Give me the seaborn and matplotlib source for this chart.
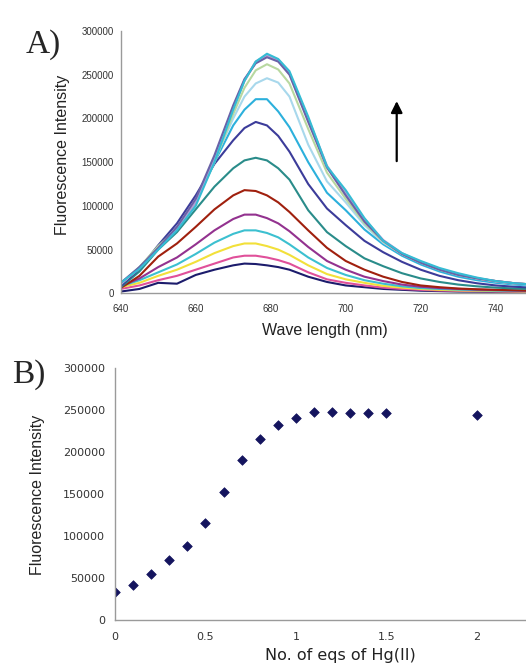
import pandas as pd
import matplotlib
matplotlib.use('Agg')
import matplotlib.pyplot as plt
import seaborn as sns

# wavelength grid (nm) the spectra were read at
wavelength = [640, 645, 650, 655, 660, 665, 670, 673, 676, 679, 682, 685, 690,
              695, 700, 705, 710, 715, 720, 725, 730, 735, 740, 745, 750]

# spectra, in thousands of counts (low -> high Hg)
s01 = [2, 5, 12, 11, 21, 27, 32, 34, 33.5, 32, 30, 27, 19, 13, 9, 7, 5, 4, 3, 2.5, 2, 1.8, 1.5, 1.3, 1.2]
s02 = [5, 9, 15, 20, 27, 34, 41, 43, 43, 41, 38, 34, 24, 16, 12, 9, 6.5, 5, 4, 3.2, 2.8, 2.4, 2, 1.8, 1.6]
s03 = [7, 12, 20, 27, 36, 46, 54, 57, 57, 54, 50, 44, 32, 22, 16, 12, 8.5, 6.5, 5, 4, 3.4, 3, 2.6, 2.3, 2]
s04 = [8, 15, 24, 33, 45, 58, 68, 72, 72, 69, 64, 56, 41, 29, 21, 15, 11, 8, 6, 5, 4.2, 3.6, 3.1, 2.7, 2.4]
s05 = [8, 17, 30, 41, 56, 72, 85, 90, 90, 86, 80, 71, 53, 37, 27, 19, 14, 10, 7.5, 6, 5, 4.3, 3.7, 3.2, 2.8]
s06 = [6, 20, 42, 57, 76, 96, 112, 118, 117, 112, 104, 93, 72, 52, 37, 27, 19, 13, 9, 7, 5.5, 4.6, 4, 3.5, 3]
s07 = [7, 25, 50, 70, 96, 122, 143, 152, 155, 152, 143, 130, 95, 70, 54, 40, 31, 23, 17, 13, 10, 8, 6.5, 5.5, 4.8]
s08 = [8, 28, 55, 80, 112, 148, 175, 189, 196, 192, 180, 162, 125, 97, 78, 60, 47, 36, 27, 20, 15, 11.5, 9, 7.5, 6.5]
s09 = [10, 30, 52, 75, 105, 150, 192, 210, 222, 222, 208, 190, 150, 115, 95, 73, 56, 43, 33, 25, 19, 15, 12, 10, 8.5]
s10 = [11, 30, 52, 75, 104, 152, 200, 225, 240, 246, 241, 225, 170, 128, 104, 78, 58, 45, 35, 27, 21, 17, 13.5, 11, 9.5]
s11 = [11, 30, 54, 74, 103, 150, 205, 235, 255, 262, 256, 240, 188, 138, 108, 80, 59, 45, 35, 27, 21, 17, 14, 11.5, 10]
s12 = [11, 29, 51, 74, 104, 154, 212, 243, 264, 272, 267, 252, 199, 145, 114, 84, 60, 45, 36, 28, 22, 17, 14, 11.5, 10]
s13 = [11, 29, 51, 75, 105, 155, 213, 244, 265, 271, 266, 251, 198, 144, 113, 83, 60, 45, 36, 28, 22, 17, 14, 11.5, 10]
s14 = [11, 29, 51, 74, 104, 154, 212, 243, 265, 273, 267, 252, 200, 146, 115, 85, 61, 46, 36, 28, 22, 17.5, 14, 11.5, 10]
s15 = [12, 30, 52, 76, 108, 158, 215, 245, 263, 270, 265, 250, 196, 144, 112, 82, 60, 45, 35, 27, 21, 17, 14, 11.5, 10]
s16 = [12, 28, 50, 72, 100, 150, 210, 243, 265, 274, 268, 254, 202, 145, 118, 86, 60, 46, 37, 29, 23, 18, 14, 11.5, 10]
spectra = [s01, s02, s03, s04, s05, s06, s07, s08, s09, s10, s11, s12, s13, s14, s15, s16]
spectra_colors = ['#1c1c6c', '#e0509a', '#f2e03a', '#3cc0d0', '#93328f', '#a0200e',
                  '#2a8c8a', '#3c3c9a', '#2cb0dc', '#a8d8ec', '#b8d8a0', '#f0b888',
                  '#e8a8c8', '#b0a0d8', '#6a62a8', '#34bcd4']

# panel B titration points
eqs_hg = [0, 0.1, 0.2, 0.3, 0.4, 0.5, 0.6, 0.7, 0.8, 0.9, 1.0, 1.1, 1.2, 1.3, 1.4, 1.5, 2.0]
intensity = [33800, 41700, 55200, 71500, 88200, 115300, 152200, 190800, 215800,
             232100, 240500, 248400, 248400, 246800, 247200, 247200, 244400]

a_xticks = [640, 660, 680, 700, 720, 740]
b_xticks = [0, 0.5, 1, 1.5, 2]
b_xticklabels = ['0', '0.5', '1', '1.5', '2']
yt = [0, 50000, 100000, 150000, 200000, 250000, 300000]

sns.set_theme(style='white')
plt.rcParams['font.family'] = ['Liberation Sans', 'DejaVu Sans']

rows = []
for i, s in enumerate(spectra):
    for w, v in zip(wavelength, s):
        rows.append({'wl': w, 'I': v * 1000, 'series': f's{i:02d}'})
spec_df = pd.DataFrame(rows)
titr_df = pd.DataFrame({'eq': eqs_hg, 'I': intensity})

fig = plt.figure(figsize=(5.26, 6.68), dpi=100)
axA = fig.add_axes([0.2295, 0.5609, 0.8555, 0.3927])
axB = fig.add_axes([0.2186, 0.0719, 0.8603, 0.3768])

spine_col = '#9a9a9a'
tick_col = '#333333'

# ---- panel A
sns.lineplot(data=spec_df, x='wl', y='I', hue='series', palette=spectra_colors,
             estimator=None, linewidth=1.5, legend=False, ax=axA)
axA.set_xlim(640, 760)
axA.set_ylim(0, 300000)
axA.set_xticks(a_xticks)
axA.set_xticklabels([str(v) for v in a_xticks])
axA.set_yticks(yt)
axA.set_yticklabels([str(v) for v in yt])
axA.tick_params(labelsize=7, colors=tick_col, length=3, width=0.8, direction='out')
axA.tick_params(axis='x', pad=5)
axA.tick_params(axis='y', pad=2)
axA.set_xlabel('Wave length (nm)', fontsize=11.5, color='#222222')
axA.set_ylabel('Fluorescence Intensity', fontsize=11.5, color='#222222')
axA.xaxis.set_label_coords(0.453, -0.113)
axA.yaxis.set_label_coords(-0.113, 0.527)
axA.annotate('', xy=(713.6, 223000), xytext=(713.6, 148000),
             arrowprops=dict(arrowstyle='-|>', color='black', lw=1.6, mutation_scale=17))

# ---- panel B
sns.scatterplot(data=titr_df, x='eq', y='I', marker='D', s=24, color='#14145e',
                edgecolor='#14145e', linewidth=0.5, ax=axB)
axB.set_xlim(0, 2.5)
axB.set_ylim(0, 300000)
axB.set_xticks(b_xticks)
axB.set_xticklabels(b_xticklabels)
axB.set_yticks(yt)
axB.set_yticklabels([str(v) for v in yt])
axB.tick_params(labelsize=8, colors=tick_col, length=3, width=0.8, direction='out')
for lab in axB.get_xticklabels() + axB.get_yticklabels():
    lab.set_family(['DejaVu Sans'])
axB.tick_params(axis='x', pad=6)
axB.tick_params(axis='y', pad=4)
axB.set_xlabel('No. of eqs of Hg(II)', fontsize=11.5, color='#222222', family=['DejaVu Sans'])
axB.set_ylabel('Fluorescence Intensity', fontsize=11.5, color='#222222')
axB.xaxis.set_label_coords(0.497, -0.112)
axB.yaxis.set_label_coords(-0.155, 0.497)

for ax in (axA, axB):
    sns.despine(ax=ax)
    for side in ('left', 'bottom'):
        ax.spines[side].set_color(spine_col)
        ax.spines[side].set_linewidth(1.0)

fig.text(0.049, 0.9207, 'A)', fontsize=24, family=['Liberation Serif'], va='baseline')
fig.text(0.0228, 0.4266, 'B)', fontsize=24, family=['Liberation Serif'], va='baseline')

fig.savefig('out.png', dpi=100)
